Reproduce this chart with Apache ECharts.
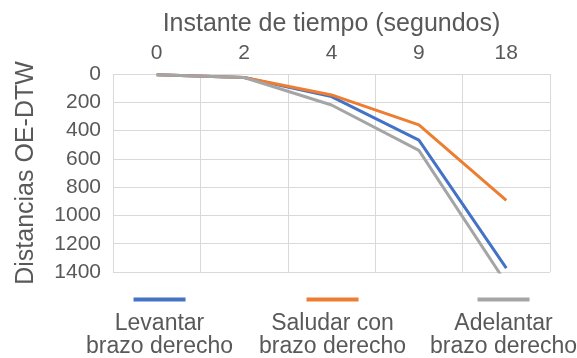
<!DOCTYPE html>
<html>
<head>
<meta charset="utf-8">
<script src="https://cdn.jsdelivr.net/npm/echarts@6/dist/echarts.min.js"></script>
<style>
  html, body { margin: 0; padding: 0; background: #ffffff; }
  #chart { width: 577px; height: 358px; }
</style>
</head>
<body>
<div id="chart"></div>
<script>
// Time instants (seconds) shown along the top axis
const instants = ['0', '2', '4', '9', '18'];

// OE-DTW distances for each gesture
const levantar = [5, 25, 160, 467, 1372];
const saludar = [5, 25, 148, 360, 893];
const adelantar = [5, 25, 219, 540, 1480];

const seriesNames = ['Levantar brazo derecho', 'Saludar con brazo derecho', 'Adelantar brazo derecho'];
const seriesLines = [
  ['Levantar', 'brazo derecho'],
  ['Saludar con', 'brazo derecho'],
  ['Adelantar', 'brazo derecho']
];
const colors = ['#4472C4', '#ED7D31', '#A5A5A5'];
const textColor = '#595959';
const fontFamily = '"Liberation Sans", Arial, sans-serif';

const chart = echarts.init(document.getElementById('chart'), null, { renderer: 'canvas' });

// One legend block per series: a colour bar above a centred two-line caption
const legendLefts = [76, 249, 420];
const legends = seriesNames.map((name, i) => ({
  data: [name],
  left: legendLefts[i],
  top: 283,
  icon: 'rect',
  itemWidth: 0,
  itemHeight: 0,
  selectedMode: false,
  formatter: () => '{ln|}\n{sp|}\n{t|' + seriesLines[i][0] + '}\n{t|' + seriesLines[i][1] + '}',
  textStyle: {
    color: textColor,
    fontFamily: fontFamily,
    fontSize: 23,
    rich: {
      ln: { width: 52, height: 4, lineHeight: 4, backgroundColor: colors[i], align: 'center' },
      sp: { height: 11, lineHeight: 11, align: 'center' },
      t: { fontSize: 23, lineHeight: 23, color: textColor, fontFamily: fontFamily, align: 'center' }
    }
  }
}));

const option = {
  backgroundColor: '#ffffff',
  animation: false,
  textStyle: { fontFamily: fontFamily },
  grid: { left: 113, right: 27, top: 74, bottom: 86, containLabel: false },
  legend: legends,
  xAxis: {
    type: 'category',
    position: 'top',
    data: instants,
    boundaryGap: true,
    name: 'Instante de tiempo (segundos)',
    nameLocation: 'middle',
    nameGap: 37,
    nameTextStyle: { color: textColor, fontSize: 25, fontFamily: fontFamily },
    axisLine: { show: false },
    axisTick: { show: false },
    axisLabel: { color: textColor, fontSize: 21, margin: 10, fontFamily: fontFamily },
    splitLine: { show: true, lineStyle: { color: '#d9d9d9', width: 1 } }
  },
  yAxis: {
    type: 'value',
    inverse: true,
    min: 0,
    max: 1400,
    interval: 200,
    name: 'Distancias OE-DTW',
    nameLocation: 'middle',
    nameGap: 74,
    nameTextStyle: { color: textColor, fontSize: 25, fontFamily: fontFamily },
    axisLine: { show: false },
    axisTick: { show: false },
    axisLabel: {
      color: textColor, fontSize: 21, margin: 12, fontFamily: fontFamily,
      formatter: (v) => String(v)
    },
    splitLine: { show: true, lineStyle: { color: '#d9d9d9', width: 1 } }
  },
  series: [
    { name: seriesNames[0], type: 'line', data: levantar, symbol: 'none', lineStyle: { width: 3, color: colors[0] }, itemStyle: { color: colors[0] } },
    { name: seriesNames[1], type: 'line', data: saludar, symbol: 'none', lineStyle: { width: 3, color: colors[1] }, itemStyle: { color: colors[1] } },
    { name: seriesNames[2], type: 'line', data: adelantar, symbol: 'none', lineStyle: { width: 3, color: colors[2] }, itemStyle: { color: colors[2] } }
  ]
};

chart.setOption(option);
</script>
</body>
</html>
